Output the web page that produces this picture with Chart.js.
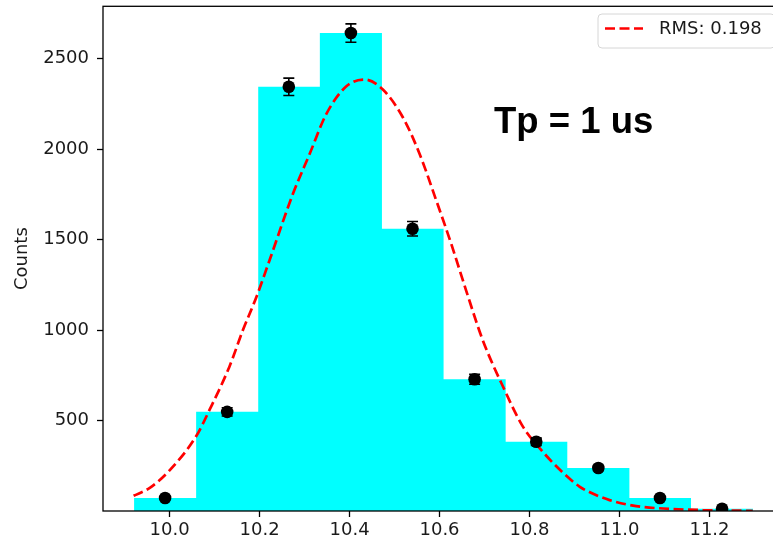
<!DOCTYPE html>
<html>
<head>
<meta charset="utf-8">
<script src="https://cdn.jsdelivr.net/npm/chart.js@4.4.1/dist/chart.umd.min.js"></script>
<style>
  html, body { margin: 0; padding: 0; background: #fff; overflow: hidden; width: 773px; height: 545px; }
  canvas { display: block; }
</style>
</head>
<body>
<canvas id="c" width="790" height="545"></canvas>
<script>
// ---- data ----
const binEdges = [9.921, 10.059, 10.197, 10.334, 10.472, 10.609, 10.747, 10.884, 11.022, 11.159, 11.297];
const binCounts = [72, 548, 2345, 2642, 1560, 728, 383, 238, 72, 12];
const pointX = [9.990, 10.128, 10.265, 10.403, 10.540, 10.678, 10.815, 10.953, 11.090, 11.228];
const pointY = [72, 548, 2345, 2642, 1560, 728, 383, 238, 72, 12];
const pointErr = [8, 23, 48, 51, 40, 27, 20, 15, 8, 3];
const curveX = [9.920, 9.956, 10.000, 10.059, 10.089, 10.133, 10.163, 10.193, 10.222, 10.274, 10.311, 10.348, 10.393, 10.433, 10.474, 10.519, 10.556, 10.593, 10.626, 10.659, 10.696, 10.741, 10.785, 10.822, 10.867, 10.911, 10.933, 10.978, 11.037, 11.111, 11.185, 11.296];
const curveY = [84, 128, 225, 413, 560, 798, 1000, 1183, 1385, 1752, 1972, 2193, 2348, 2385, 2330, 2174, 1972, 1715, 1477, 1220, 945, 688, 468, 349, 229, 135, 105, 60, 27, 12, 5, 1];
const xTicks = [10.0, 10.2, 10.4, 10.6, 10.8, 11.0, 11.2];
const yTicks = [500, 1000, 1500, 2000, 2500];
const legendLabel = 'RMS: 0.198';
const annotationText = 'Tp = 1 us';
const yTitle = 'Counts';

// histogram as step outline (last edge repeats last count)
const histData = binEdges.map((e, i) => ({ x: e, y: binCounts[Math.min(i, binCounts.length - 1)] }));
const pointData = pointX.map((x, i) => ({ x: x, y: pointY[i] }));
const curveData = curveX.map((x, i) => ({ x: x, y: curveY[i] }));

const TICK_FONT = { family: 'DejaVu Sans', size: 18 };
const TEXT_COLOR = '#1a1a1a';

const decorPlugin = {
  id: 'decor',
  afterDatasetsDraw(chart) {
    const ctx = chart.ctx;
    const xs = chart.scales.x, ys = chart.scales.y;
    const a = chart.chartArea;
    ctx.save();
    ctx.beginPath();
    ctx.rect(a.left, a.top, a.right - a.left, a.bottom - a.top);
    ctx.clip();
    ctx.strokeStyle = '#000';
    ctx.lineWidth = 1.6;
    pointX.forEach((x, i) => {
      const px = xs.getPixelForValue(x);
      const y1 = ys.getPixelForValue(pointY[i] - pointErr[i]);
      const y2 = ys.getPixelForValue(pointY[i] + pointErr[i]);
      ctx.beginPath();
      ctx.moveTo(px, y1); ctx.lineTo(px, y2);
      ctx.moveTo(px - 5.5, y1); ctx.lineTo(px + 5.5, y1);
      ctx.moveTo(px - 5.5, y2); ctx.lineTo(px + 5.5, y2);
      ctx.stroke();
    });
    ctx.restore();
  },
  afterDraw(chart) {
    const ctx = chart.ctx;
    const a = chart.chartArea;
    ctx.save();
    ctx.strokeStyle = '#000';
    ctx.lineWidth = 1.3;
    ctx.strokeRect(a.left, a.top, a.right - a.left, a.bottom - a.top);
    ctx.fillStyle = '#000';
    ctx.font = 'bold 36.5px "Liberation Sans", Arial, sans-serif';
    ctx.textAlign = 'left';
    ctx.textBaseline = 'alphabetic';
    ctx.fillText(annotationText, 494, 133);
    const bx = 598, by = 14, bw = 177, bh = 34, r = 4;
    ctx.beginPath();
    ctx.moveTo(bx + r, by);
    ctx.lineTo(bx + bw - r, by);
    ctx.quadraticCurveTo(bx + bw, by, bx + bw, by + r);
    ctx.lineTo(bx + bw, by + bh - r);
    ctx.quadraticCurveTo(bx + bw, by + bh, bx + bw - r, by + bh);
    ctx.lineTo(bx + r, by + bh);
    ctx.quadraticCurveTo(bx, by + bh, bx, by + bh - r);
    ctx.lineTo(bx, by + r);
    ctx.quadraticCurveTo(bx, by, bx + r, by);
    ctx.closePath();
    ctx.fillStyle = 'rgba(255,255,255,0.8)';
    ctx.fill();
    ctx.strokeStyle = '#d6d6d6';
    ctx.lineWidth = 1;
    ctx.stroke();
    ctx.strokeStyle = '#ff0000';
    ctx.lineWidth = 2.7;
    ctx.setLineDash([10, 4.5]);
    ctx.beginPath();
    ctx.moveTo(605, 28.5); ctx.lineTo(643, 28.5);
    ctx.stroke();
    ctx.setLineDash([]);
    ctx.fillStyle = TEXT_COLOR;
    ctx.font = '18px "DejaVu Sans"';
    ctx.textBaseline = 'middle';
    ctx.fillText(legendLabel, 659, 29);
    ctx.restore();
  }
};

new Chart(document.getElementById('c'), {
  type: 'line',
  data: {
    datasets: [
      {
        type: 'scatter',
        data: pointData,
        pointRadius: 6.3,
        pointHoverRadius: 6.3,
        pointBackgroundColor: '#000',
        pointBorderColor: '#000',
        pointBorderWidth: 0,
        showLine: false,
        clip: 0,
        order: 0
      },
      {
        type: 'line',
        data: curveData,
        borderColor: '#ff0000',
        borderWidth: 2.7,
        borderDash: [10, 4.5],
        pointRadius: 0,
        cubicInterpolationMode: 'monotone',
        fill: false,
        order: 1
      },
      {
        type: 'line',
        data: histData,
        stepped: 'before',
        borderColor: 'rgba(0,0,0,0)',
        borderWidth: 0,
        backgroundColor: '#00ffff',
        fill: 'origin',
        pointRadius: 0,
        order: 2
      }
    ]
  },
  options: {
    responsive: false,
    animation: false,
    devicePixelRatio: 1,
    layout: { padding: { top: 4, right: 6, left: 0, bottom: 0 } },
    plugins: { legend: { display: false }, tooltip: { enabled: false } },
    events: [],
    scales: {
      x: {
        type: 'linear',
        min: 9.852,
        max: 11.365,
        afterBuildTicks(scale) { scale.ticks = xTicks.map(v => ({ value: v })); },
        afterFit(scale) { scale.height = 34; scale.paddingLeft = 0; scale.paddingRight = 0; },
        grid: { drawOnChartArea: false, drawTicks: true, tickLength: 6, tickColor: '#000', tickWidth: 1.3 },
        border: { display: false },
        ticks: {
          font: TICK_FONT,
          color: TEXT_COLOR,
          padding: 3,
          maxRotation: 0,
          autoSkip: false,
          callback: v => Number(v).toFixed(1)
        }
      },
      y: {
        type: 'linear',
        min: 0,
        max: 2790,
        afterBuildTicks(scale) { scale.ticks = yTicks.map(v => ({ value: v })); },
        afterFit(scale) { scale.width = 103; scale.paddingTop = 0; scale.paddingBottom = 0; },
        grid: { drawOnChartArea: false, drawTicks: true, tickLength: 6, tickColor: '#000', tickWidth: 1.3 },
        border: { display: false },
        ticks: {
          font: TICK_FONT,
          color: TEXT_COLOR,
          padding: 8,
          autoSkip: false,
          callback: v => String(v)
        },
        title: {
          display: true,
          text: yTitle,
          font: { family: 'DejaVu Sans', size: 18 },
          color: TEXT_COLOR,
          padding: { top: 12, bottom: 0 }
        }
      }
    }
  },
  plugins: [decorPlugin]
});
</script>
</body>
</html>
